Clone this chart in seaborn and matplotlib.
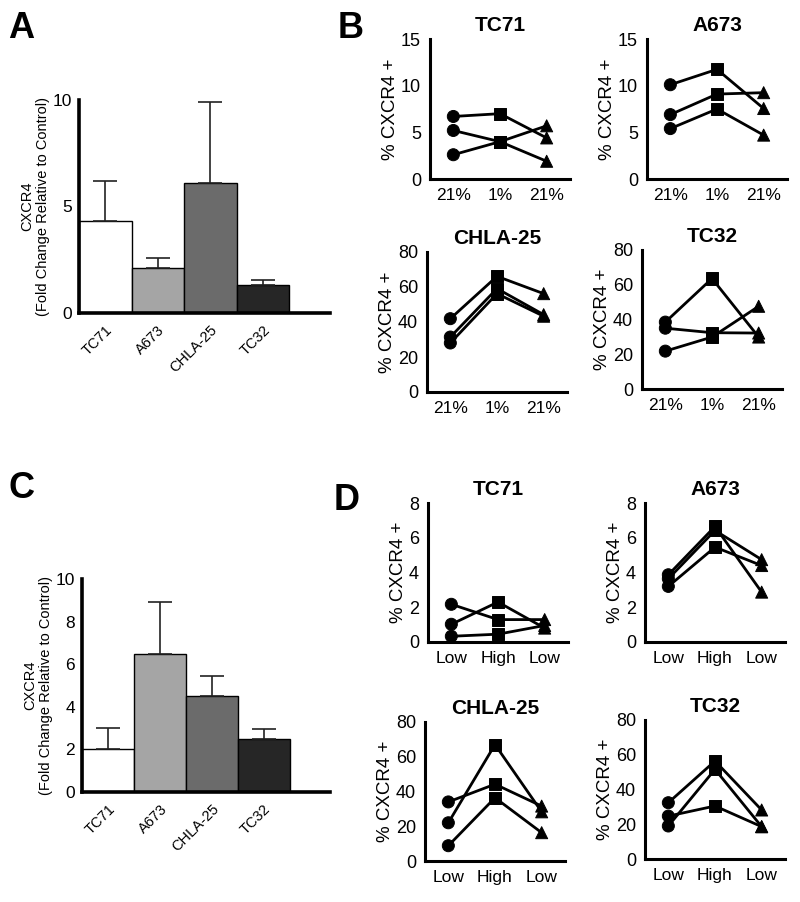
import numpy as np
import pandas as pd
import matplotlib
matplotlib.use("Agg")
import matplotlib.pyplot as plt
import seaborn as sns

sns.set_style("white")
plt.rcParams['font.family'] = ['Liberation Sans', 'DejaVu Sans']
plt.rcParams.update({"text.color": "black", "axes.labelcolor": "black",
                     "xtick.color": "black", "ytick.color": "black"})

# ---- data ----
cell_lines = ["TC71", "A673", "CHLA-25", "TC32"]
bar_colors = ["#ffffff", "#a5a5a5", "#6b6b6b", "#262626"]

# panel A (hypoxia, fold change)
a_mean = [4.3, 2.1, 6.1, 1.3]
a_top = [6.2, 2.6, 9.9, 1.55]
# panel C (high density, fold change)
c_mean = [2.0, 6.5, 4.5, 2.5]
c_top = [3.0, 8.9, 5.45, 2.95]

stages = ["pre", "treat", "post"]
b_xlabels = ["21%", "1%", "21%"]
d_xlabels = ["Low", "High", "Low"]

# each row = one replicate: [pre, treat, post]
b_tc71 = [[6.7, 7.0, 4.4], [5.2, 4.0, 1.9], [2.6, 4.0, 5.7]]
b_a673 = [[10.1, 11.75, 7.55], [6.9, 9.1, 9.25], [5.4, 7.5, 4.7]]
b_chla25 = [[41.9, 66.1, 56.2], [31.4, 59.1, 44.2], [28.0, 56.2, 43.3]]
b_tc32 = [[38.5, 63.6, 29.9], [35.0, 32.4, 32.2], [21.8, 29.9, 47.6]]

d_tc71 = [[2.17, 1.29, 1.29], [1.02, 2.3, 0.8], [0.33, 0.45, 0.95]]
d_a673 = [[3.87, 6.65, 2.87], [3.64, 6.42, 4.74], [3.2, 5.46, 4.4]]
d_chla25 = [[34.0, 44.2, 31.6], [22.0, 67.0, 28.3], [8.8, 36.4, 16.3]]
d_tc32 = [[32.4, 56.4, 28.2], [19.0, 51.6, 18.6], [24.7, 30.5, 18.6]]

W, H = 800, 902
fig = plt.figure(figsize=(W / 100, H / 100), dpi=100)


def px_axes(x0, x1, ytop, ybot):
    return fig.add_axes([x0 / W, 1 - ybot / H, (x1 - x0) / W, (ybot - ytop) / H])


def bar_panel(ax, means, tops, yticks):
    df = pd.DataFrame({"line": cell_lines, "val": means})
    sns.barplot(data=df, x="line", y="val", hue="line", palette=bar_colors,
                order=cell_lines, hue_order=cell_lines, width=1.0,
                edgecolor="black", linewidth=1.0, errorbar=None, legend=False, ax=ax)
    pos = np.arange(len(cell_lines))
    up = np.array(tops) - np.array(means)
    ax.errorbar(pos, means, yerr=[np.zeros_like(up), up], fmt="none",
                ecolor="#222222", elinewidth=1.2, capsize=8.5, capthick=1.2, zorder=3)
    ax.set_xlim(-0.5, 4.28)
    ax.set_ylim(0, 10)
    ax.set_yticks(yticks)
    ax.set_yticklabels([str(t) for t in yticks], fontsize=12.5)
    ax.set_xticks(pos)
    ax.set_xticklabels(cell_lines, rotation=45, ha="right", rotation_mode="anchor", fontsize=10.5)
    ax.set_xlabel("")
    ax.set_ylabel("CXCR4\n(Fold Change Relative to Control)", fontsize=10.5, labelpad=2,
                  linespacing=1.15)
    for s in ["top", "right"]:
        ax.spines[s].set_visible(False)
    for s in ["left", "bottom"]:
        ax.spines[s].set_linewidth(2.6)
        ax.spines[s].set_color("black")
    ax.tick_params(axis="both", direction="out", length=5, width=2.4, color="black", pad=2)
    ax.tick_params(axis="y", length=4, pad=1)


def line_panel(ax, title, reps, ymax, yticks, xlabels):
    rows = []
    for r, vals in enumerate(reps):
        for i, v in enumerate(vals):
            rows.append({"rep": r, "pos": i, "stage": stages[i], "val": v})
    df = pd.DataFrame(rows)
    sns.lineplot(data=df, x="pos", y="val", units="rep", estimator=None,
                 color="black", linewidth=2.0, ax=ax)
    sns.scatterplot(data=df, x="pos", y="val", style="stage",
                    markers={"pre": "o", "treat": "s", "post": "^"},
                    color="black", edgecolor="black", s=75, legend=False, ax=ax, zorder=4)
    ax.set_xlim(-0.5, 2.5)
    ax.set_ylim(0, ymax)
    ax.set_yticks(yticks)
    ax.set_yticklabels([str(t) for t in yticks], fontsize=13)
    ax.set_xticks([0, 1, 2])
    ax.set_xticklabels(xlabels, fontsize=12.5)
    ax.set_xlabel("")
    ax.set_ylabel("% CXCR4 +", fontsize=13.5, labelpad=1)
    ax.set_title(title, fontsize=15, fontweight="bold", pad=6)
    for s in ["top", "right"]:
        ax.spines[s].set_visible(False)
    for s in ["left", "bottom"]:
        ax.spines[s].set_linewidth(2.2)
        ax.spines[s].set_color("black")
    ax.tick_params(axis="both", direction="out", length=5, width=2.0, color="black", pad=1.5)


# panel A
axA = px_axes(79, 330, 100, 313)
bar_panel(axA, a_mean, a_top, [0, 5, 10])
# panel C
axC = px_axes(82, 330, 579, 792)
bar_panel(axC, c_mean, c_top, [0, 2, 4, 6, 8, 10])

# panel B
line_panel(px_axes(430, 570, 39, 179), "TC71", b_tc71, 15, [0, 5, 10, 15], b_xlabels)
line_panel(px_axes(647, 787, 39, 179), "A673", b_a673, 15, [0, 5, 10, 15], b_xlabels)
line_panel(px_axes(427, 567, 252, 392), "CHLA-25", b_chla25, 80, [0, 20, 40, 60, 80], b_xlabels)
line_panel(px_axes(642, 782, 250, 389), "TC32", b_tc32, 80, [0, 20, 40, 60, 80], b_xlabels)

# panel D
line_panel(px_axes(428, 568, 503, 642), "TC71", d_tc71, 8, [0, 2, 4, 6, 8], d_xlabels)
line_panel(px_axes(645, 785, 503, 642), "A673", d_a673, 8, [0, 2, 4, 6, 8], d_xlabels)
line_panel(px_axes(425, 565, 722, 861), "CHLA-25", d_chla25, 80, [0, 20, 40, 60, 80], d_xlabels)
line_panel(px_axes(645, 785, 720, 859), "TC32", d_tc32, 80, [0, 20, 40, 60, 80], d_xlabels)

# panel letters
for letter, x, y in [("A", 8, 38), ("B", 338, 38), ("C", 8, 498), ("D", 334, 510)]:
    fig.text(x / W, 1 - y / H, letter, fontsize=26, fontweight="bold", ha="left", va="baseline")

fig.savefig("out.png", dpi=100, facecolor="white")
